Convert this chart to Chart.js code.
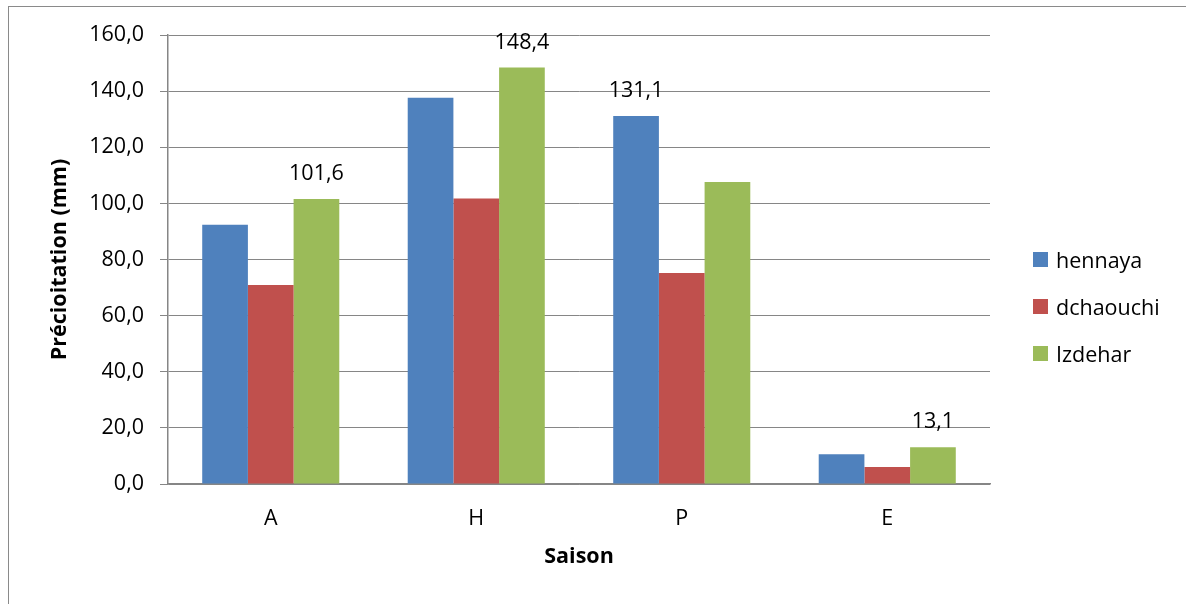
<!DOCTYPE html>
<html>
<head>
<meta charset="utf-8">
<script src="https://cdn.jsdelivr.net/npm/chart.js@4.4.1/dist/chart.umd.min.js"></script>
<style>
  html, body { margin: 0; padding: 0; background: #fff; overflow: hidden; }
  #wrap { position: relative; width: 1186px; height: 604px; }
  #frame { position: absolute; left: 8px; top: 6px; width: 1300px; height: 700px;
           border-left: 1px solid #8a8a8a; border-top: 1px solid #8a8a8a; }
  canvas { position: absolute; left: 0; top: 0; }
  #legend { position: absolute; left: 1033px; top: 243px; font-family: "Open Sans", Lato, sans-serif;
            font-size: 21.5px; color: #000; }
  #legend .item { display: flex; align-items: center; height: 32px; margin-bottom: 15px; }
  #legend .box { width: 15px; height: 15px; margin-right: 8px; }
</style>
</head>
<body>
<div id="wrap">
  <div id="frame"></div>
  <canvas id="c" width="1186" height="604"></canvas>
  <div id="legend"></div>
</div>
<script>
// Seasonal precipitation (mm) per station
const seasons = ['A', 'H', 'P', 'E'];
const seriesNames = ['hennaya', 'dchaouchi', 'Izdehar'];
const hennaya   = [92.4, 137.6, 131.1, 10.6];
const dchaouchi = [70.9, 101.7, 75.2, 6.1];
const izdehar   = [101.6, 148.4, 107.6, 13.1];
const seriesColors = ['#4F81BD', '#C0504D', '#9BBB59'];
const yTicks = [0, 20, 40, 60, 80, 100, 120, 140, 160];

const FONT = '"Open Sans", Lato, sans-serif';
const SIZE = 21.5;
const fmt = v => v.toFixed(1).replace('.', ',');

// Value label above the tallest bar of each season
const maxLabels = {
  id: 'maxLabels',
  afterDatasetsDraw(chart) {
    const ctx = chart.ctx;
    ctx.save();
    ctx.font = SIZE + 'px ' + FONT;
    ctx.fillStyle = '#000';
    ctx.textAlign = 'center';
    ctx.textBaseline = 'alphabetic';
    seasons.forEach((s, i) => {
      let best = 0;
      chart.data.datasets.forEach((ds, d) => {
        if (ds.data[i] > chart.data.datasets[best].data[i]) best = d;
      });
      const bar = chart.getDatasetMeta(best).data[i];
      ctx.fillText(fmt(chart.data.datasets[best].data[i]), bar.x, bar.y - 19);
    });
    ctx.restore();
  }
};

const seriesData = [hennaya, dchaouchi, izdehar];

new Chart(document.getElementById('c'), {
  type: 'bar',
  data: {
    labels: seasons,
    datasets: seriesNames.map((name, k) => ({
      label: name,
      data: seriesData[k],
      backgroundColor: seriesColors[k],
      borderWidth: 0,
      categoryPercentage: 0.667,
      barPercentage: 1.0
    }))
  },
  options: {
    responsive: false,
    animation: false,
    layout: { padding: { left: 43, top: 35, right: 196, bottom: 30 } },
    plugins: {
      legend: { display: false },
      tooltip: { enabled: false }
    },
    scales: {
      x: {
        grid: { display: false, drawTicks: false },
        border: { color: '#868686', width: 1.5 },
        ticks: { font: { family: FONT, size: SIZE }, color: '#000', padding: 22 },
        title: { display: true, text: 'Saison', font: { family: FONT, size: SIZE, weight: 'bold' }, color: '#000', padding: { top: 4, bottom: 4 } },
        afterFit(scale) { scale.height = 604 - 30 - 484; }
      },
      y: {
        min: 0, max: 160,
        afterBuildTicks(scale) { scale.ticks = yTicks.map(v => ({ value: v })); },
        grid: { color: '#868686', lineWidth: 1, tickLength: 8, tickColor: '#868686' },
        border: { color: '#868686', width: 1.5 },
        ticks: { font: { family: FONT, size: SIZE }, color: '#000', padding: 16, callback: v => fmt(v) },
        title: { display: true, text: 'Précioitation (mm)', font: { family: FONT, size: SIZE, weight: 'bold' }, color: '#000', padding: { top: 4, bottom: 4 } },
        afterFit(scale) { scale.width = 168 - 43; }
      }
    }
  },
  plugins: [maxLabels]
});

// Legend
const legend = document.getElementById('legend');
seriesNames.forEach((name, k) => {
  const item = document.createElement('div');
  item.className = 'item';
  const box = document.createElement('div');
  box.className = 'box';
  box.style.background = seriesColors[k];
  const txt = document.createElement('span');
  txt.textContent = name;
  item.appendChild(box);
  item.appendChild(txt);
  legend.appendChild(item);
});
</script>
</body>
</html>
